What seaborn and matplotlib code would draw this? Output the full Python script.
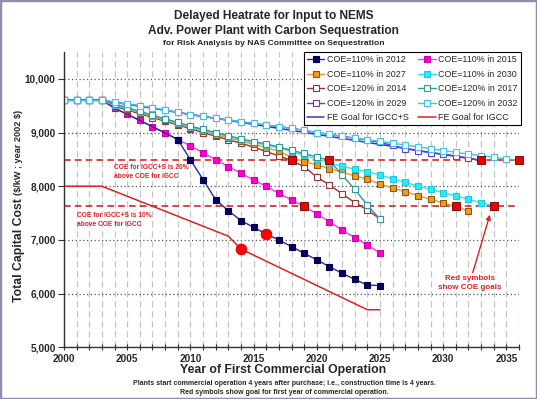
import matplotlib
matplotlib.use("Agg")
import matplotlib.pyplot as plt
from matplotlib.ticker import MultipleLocator, FuncFormatter
from matplotlib.patches import Rectangle
import seaborn as sns

# ---------------- data ----------------
years_2025 = list(range(2000, 2026))
years_2032 = list(range(2000, 2033))
years_2033 = list(range(2000, 2034))
years_2034 = list(range(2000, 2035))
years_2036 = list(range(2000, 2037))

coe110_2012 = [9600, 9600, 9600, 9600, 9455, 9340, 9225, 9110, 8990, 8870, 8495, 8125, 7750,
               7545, 7360, 7235, 7110, 7000, 6875, 6750, 6630, 6500, 6380, 6265, 6160, 6150]
coe110_2015 = [9600, 9600, 9600, 9600, 9455, 9340, 9225, 9110, 8995, 8870, 8750, 8625, 8495,
               8366, 8242, 8118, 7995, 7870, 7745, 7625, 7485, 7340, 7185, 7045, 6905, 6760]
coe110_2027 = [9600, 9600, 9600, 9600, 9505, 9440, 9370, 9300, 9230, 9160, 9090, 9030, 8960,
               8900, 8840, 8780, 8720, 8650, 8540, 8460, 8400, 8330, 8260, 8195, 8130, 8040,
               7965, 7900, 7825, 7760, 7685, 7620, 7540]
coe110_2030 = [9600, 9600, 9600, 9600, 9515, 9450, 9385, 9315, 9245, 9175, 9105, 9045, 8985,
               8925, 8870, 8815, 8765, 8715, 8650, 8575, 8505, 8440, 8370, 8320, 8270, 8210,
               8140, 8070, 8005, 7945, 7880, 7820, 7760, 7695, 7635]
coe120_2014 = [9600, 9600, 9600, 9600, 9490, 9420, 9350, 9280, 9210, 9140, 9070, 9000, 8930,
               8865, 8800, 8730, 8645, 8565, 8480, 8365, 8170, 8025, 7860, 7695, 7560, 7390]
coe120_2017 = [9600, 9600, 9600, 9600, 9530, 9465, 9395, 9325, 9255, 9190, 9120, 9060, 9000,
               8940, 8885, 8830, 8790, 8730, 8670, 8610, 8545, 8480, 8210, 7945, 7650, 7390]
coe120_2029 = [9600, 9600, 9600, 9600, 9565, 9530, 9500, 9460, 9420, 9375, 9330, 9300, 9265,
               9235, 9200, 9170, 9140, 9110, 9080, 9040, 9000, 8965, 8930, 8895, 8860, 8815,
               8760, 8700, 8660, 8625, 8595, 8565, 8525, 8480]
coe120_2032 = [9600, 9600, 9600, 9600, 9565, 9530, 9500, 9460, 9420, 9375, 9330, 9300, 9265,
               9235, 9200, 9170, 9140, 9110, 9080, 9040, 9000, 8965, 8930, 8895, 8865, 8835,
               8800, 8770, 8735, 8700, 8665, 8630, 8600, 8570, 8540, 8510, 8480]
fe_igccs_years = [2000, 2003, 2033]
fe_igccs_vals = [9600, 9600, 8480]
fe_igcc_years = [2000, 2003, 2013, 2014, 2024, 2025]
fe_igcc_vals = [8000, 8000, 7070, 6830, 5700, 5700]

goal_high = 8480   # COE for IGCC+S 20% above IGCC
goal_low = 7635    # COE for IGCC+S 10% above IGCC
goal_sq_years = [2018, 2021, 2033, 2036, 2019, 2031, 2034]
goal_sq_vals = [8480, 8480, 8480, 8480, 7635, 7635, 7635]
goal_circ_years = [2014, 2016]
goal_circ_vals = [6830, 7110]

# ---------------- style ----------------
sns.set_style("white")
plt.rcParams["font.family"] = ["Liberation Sans", "DejaVu Sans"]

fig = plt.figure(figsize=(5.37, 3.99), dpi=100)
fig.patch.set_facecolor("white")
ax = fig.add_axes([64 / 537, 1 - 347.3 / 399, (519 - 64) / 537, (347.3 - 52) / 399])

handles = {}


def draw(x, y, label, color, mfc, mec, marker="s", ms=4.2, lw=1.0, z=2, markevery=None):
    sns.lineplot(x=x, y=y, ax=ax, color=color, marker=marker, markersize=ms,
                 markerfacecolor=mfc, markeredgecolor=mec, markeredgewidth=0.8,
                 linewidth=lw, estimator=None, errorbar=None, sort=False,
                 legend=False, zorder=z, markevery=markevery)
    line = ax.lines[-1]
    handles[label] = line


draw(fe_igcc_years, fe_igcc_vals, "FE Goal for IGCC", "#dd2222", "none", "none", marker=None, lw=1.1)
draw(years_2025, coe110_2015, "COE=110% in 2015", "#ff33ff", "#ff00cc", "#cc00aa")
navy_marks = [i for i in range(len(years_2025)) if not 4 <= i <= 8]
draw(years_2025, coe110_2012, "COE=110% in 2012", "#2a2aa0", "#000066", "#000044",
     markevery=navy_marks)
draw(years_2025, coe120_2014, "COE=120% in 2014", "#9a3333", "white", "#9a3333")
draw(years_2032, coe110_2027, "COE=110% in 2027", "#f39a1e", "#f39a1e", "#8a5a10")
draw(years_2034, coe110_2030, "COE=110% in 2030", "#33e6ee", "#22eeff", "#22c8d8")
draw(years_2025, coe120_2017, "COE=120% in 2017", "#2f9a9a", "white", "#2f9a9a")
draw(fe_igccs_years, fe_igccs_vals, "FE Goal for IGCC+S", "#3b35c8", "none", "none", marker=None, lw=1.1)
draw(years_2033, coe120_2029, "COE=120% in 2029", "#6a3ad0", "white", "#6a3ad0")
draw(years_2036, coe120_2032, "COE=120% in 2032", "#3cc4ee", "white", "#3cc4ee")

# goal levels
for lvl in (goal_high, goal_low):
    ax.axhline(lvl, color="#dd2222", linestyle=(0, (4, 2.5)), linewidth=1.2, zorder=1.8)

sns.scatterplot(x=goal_sq_years, y=goal_sq_vals, ax=ax, marker="s", s=30, color="#ee0000",
                edgecolor="#700000", linewidth=0.6, zorder=6, clip_on=False, legend=False)
sns.scatterplot(x=goal_circ_years, y=goal_circ_vals, ax=ax, marker="o", s=60, color="#ff0000",
                edgecolor="#cc0000", linewidth=0.6, zorder=6, legend=False)

# ---------------- axes ----------------
ax.set_xlim(2000, 2036)
ax.set_ylim(5000, 10500)
ax.xaxis.set_major_locator(MultipleLocator(5))
ax.xaxis.set_minor_locator(MultipleLocator(1))
ax.yaxis.set_major_locator(MultipleLocator(1000))
ax.yaxis.set_major_formatter(FuncFormatter(lambda v, p: f"{int(v):,}"))
ax.xaxis.set_major_formatter(FuncFormatter(lambda v, p: f"{int(v)}" if v <= 2035 else ""))

ax.grid(False)
ax.xaxis.grid(True, which="both", linestyle=(0, (5, 3)), color="#c4c4c4", linewidth=0.9, zorder=0)
ax.yaxis.grid(True, which="major", linestyle=(0, (1, 2)), color="#555555", linewidth=0.9, zorder=0)
ax.set_axisbelow(True)

for s in ("top", "right"):
    ax.spines[s].set_visible(False)
for s in ("left", "bottom"):
    ax.spines[s].set_color("#333333")
    ax.spines[s].set_linewidth(1.0)

ax.tick_params(axis="x", which="both", direction="inout", length=5, width=0.8, color="#333333",
               labelsize=7.2, pad=2.5, bottom=True)
ax.tick_params(axis="y", which="major", direction="out", length=4, width=0.8, color="#333333",
               labelsize=7.2, pad=2, left=True)
for t in ax.get_xticklabels() + ax.get_yticklabels():
    t.set_fontweight("bold")
ax.set_xlabel("")
ax.set_ylabel("")

# annotations
ax.text(2003.95, 8260, "COE for IGCC+S is 20%\nabove COE for IGCC", color="#e02020",
        fontsize=4.8, fontweight="bold", ha="left", va="center", linespacing=1.35)
ax.text(2001.0, 7370, "COE for IGCC+S is 10%\nabove COE for IGCC", color="#e02020",
        fontsize=4.8, fontweight="bold", ha="left", va="center", linespacing=1.35)
ax.annotate("Red symbols\nshow COE goals", xy=(2033.7, 7470), xytext=(2032.1, 6200),
            ha="center", va="center", color="#e02020", fontsize=5.8, fontweight="bold",
            linespacing=1.3,
            bbox=dict(boxstyle="square,pad=0.25", fc="white", ec="none"),
            arrowprops=dict(arrowstyle="-|>", color="#dd2222", lw=1.0, mutation_scale=7,
                            shrinkA=0, shrinkB=0), zorder=7)

# legend
order = ["COE=110% in 2012", "COE=110% in 2027", "COE=120% in 2014", "COE=120% in 2029",
         "FE Goal for IGCC+S", "COE=110% in 2015", "COE=110% in 2030", "COE=120% in 2017",
         "COE=120% in 2032", "FE Goal for IGCC"]
leg = ax.legend([handles[k] for k in order], order, ncol=2, loc="upper right",
                bbox_to_anchor=(1.004, 1.0), prop={"size": 6.4}, frameon=True, fancybox=False,
                framealpha=1, edgecolor="black", handlelength=2.0, handletextpad=0.3,
                columnspacing=1.0, labelspacing=0.62, borderpad=0.35, borderaxespad=0.0)
leg.get_frame().set_linewidth(0.8)
leg.set_zorder(10)

# titles and labels
fig.text(0.510, 0.9607, "Delayed Heatrate for Input to NEMS", ha="center", va="center",
         fontsize=8.6, fontweight="bold")
fig.text(0.510, 0.923, "Adv. Power Plant with Carbon Sequestration", ha="center", va="center",
         fontsize=8.6, fontweight="bold")
fig.text(0.510, 0.8915, "for Risk Analysis by NAS Committee on Sequestration", ha="center",
         va="center", fontsize=6.1, fontweight="bold")
fig.text(0.528, 1 - 370 / 399, "Year of First Commercial Operation", ha="center", va="center",
         fontsize=8.8, fontweight="bold")
fig.text(19 / 537, 1 - 195 / 399, r"(\$/kW ; year 2002 \$)", rotation=90, ha="center",
         va="bottom", fontsize=6.6, fontweight="bold")
fig.text(19 / 537, 1 - 198 / 399, "Total Capital Cost", rotation=90, ha="center", va="top",
         fontsize=8.8, fontweight="bold")
fig.text(0.529, 1 - 383.3 / 399,
         "Plants start commercial operation 4 years after purchase; i.e., construction time is 4 years.",
         ha="center", va="center", fontsize=5.0, fontweight="bold")
fig.text(0.529, 1 - 392.3 / 399, "Red symbols show goal for first year of commercial operation.",
         ha="center", va="center", fontsize=5.0, fontweight="bold")

fig.patches.append(Rectangle((0, 0), 1, 1, transform=fig.transFigure, fill=False,
                             edgecolor="#8e8eae", linewidth=2.5, zorder=20))

fig.savefig("out.png", dpi=100)
